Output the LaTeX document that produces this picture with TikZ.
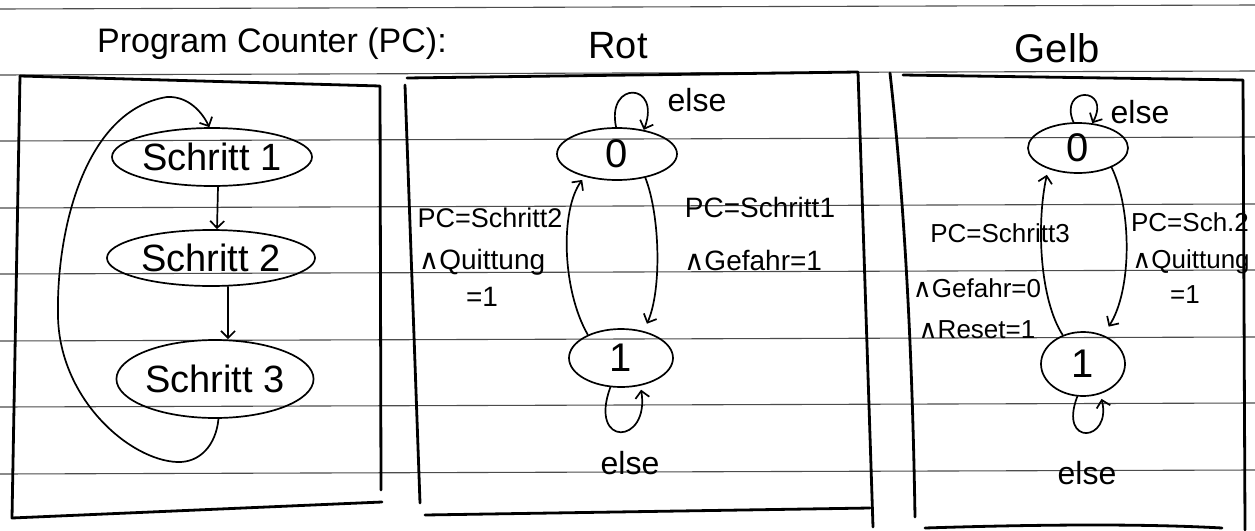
\documentclass[tikz,border=0pt]{standalone}
\usepackage{fontspec}
\setmainfont{Liberation Sans}
\newfontfamily\symfont{DejaVu Sans}
\usetikzlibrary{shapes.geometric,arrows.meta}
\newcommand{\fsz}[1]{\fontsize{#1}{#1}\selectfont}
\newcommand{\andsym}{{\symfont ∧}}
\begin{document}
\begin{tikzpicture}[x=1pt,y=-1pt,
  rule/.style={black!70,line width=1.1pt},
  frame/.style={line width=2.8pt,line cap=round,line join=round},
  state/.style={ellipse,draw,line width=1.7pt,inner sep=0pt},
  arr/.style={line width=1.7pt,line cap=round,
    -{Straight Barb[length=7pt,width=14pt,line width=1.7pt]}},
  title/.style={font=\fsz{34},inner sep=0pt},
  lbl/.style={font=\fsz{26},inner sep=0pt},
  elsel/.style={font=\fsz{32},inner sep=0pt}]

\useasboundingbox (0,0) rectangle (1255,530);
\fill[white] (0,0) rectangle (1255,530);

% ruled paper
\foreach \yy in {5,71,137,204,270,337,403,470}
  \draw[rule] (0,{\yy+4}) -- (1255,\yy);

% headings
\node[title] (hpc) at (272,44) {Program Counter (PC):};
\node[title,font=\fsz{38}] (hrot) at (618,46) {Rot};
\node[title,font=\fsz{40}] (hgelb) at (1057,48) {Gelb};

% frames
\draw[frame] (20,76) -- (380,86) -- (381,490);
\draw[frame] (20,76) -- (12,518) -- (382,502);
\draw[frame] (405,85) -- (420,503);
\draw[frame] (407,78) -- (858,72) -- (873,527);
\draw[frame] (425,515) -- (870,508);
\draw[frame] (890,73) .. controls (903,190) and (912,330) .. (915,517);
\draw[frame] (903,75) -- (1243,80) -- (1245,530);
\draw[frame] (925,528) .. controls (1050,524) and (1150,524) .. (1222,528);

% program counter
\node[state,minimum width=200pt,minimum height=58pt,font=\fsz{38}] (s1) at (212,157) {Schritt 1};
\node[state,minimum width=208pt,minimum height=56pt,font=\fsz{38}] (s2) at (211,258) {Schritt 2};
\node[state,minimum width=186pt,minimum height=78pt,font=\fsz{38}] (s3) at (215,379) {Schritt 3};
\draw[arr] ([xshift=6pt]s1.south) -- ([xshift=6pt]s2.north);
\draw[arr] ([xshift=17pt]s2.south) -- ([xshift=13pt]s3.north);
\draw[arr] (s3.275) .. controls (216,445) and (200,463) .. (177,462)
  .. controls (130,460) and (60,400) .. (58,317)
  .. controls (56,230) and (85,110) .. (167,97)
  .. controls (185,96) and (200,108) .. (s1.95);

% Rot
\node[state,minimum width=120pt,minimum height=52pt,font=\fsz{40}] (r0) at (617,154) {0};
\node[state,minimum width=104pt,minimum height=58pt,font=\fsz{40}] (r1) at (621,358) {1};
\draw[arr] (r0.92) .. controls (606,80) and (662,82) .. (r0.42);
\node[elsel] (re0) at (697,100) {else};
\draw[arr,shorten >=8pt] (r0.320) .. controls (660,215) and (662,290) .. (r1.50);
\node[lbl,font=\fsz{28}] (rl1) at (760,207) {PC=Schritt1};
\node[lbl,font=\fsz{28}] (rl2) at (753,260) {\andsym Gefahr=1};
\draw[arr,shorten >=4pt] (r1.145) .. controls (562,290) and (560,210) .. (r0.215);
\node[lbl,font=\fsz{27}] (rl3) at (490,218) {PC=Schritt2};
\node[lbl,font=\fsz{28}] (rl4) at (482,262) {\andsym Quittung};
\node[lbl,font=\fsz{28}] (rl5) at (482,297) {=1};
\draw[arr,shorten >=4pt] (r1.250) .. controls (588,448) and (650,445) .. (r1.305);
\node[elsel] (re1) at (630,463) {else};

% Gelb
\node[state,minimum width=100pt,minimum height=50pt,font=\fsz{40}] (g0) at (1078,148) {0};
\node[state,minimum width=84pt,minimum height=64pt,font=\fsz{40}] (g1) at (1083,364) {1};
\draw[arr] (g0.100) .. controls (1058,86) and (1112,86) .. (g0.60);
\node[elsel] (ge0) at (1140,112) {else};
\draw[arr,shorten >=6pt] (g1.125) .. controls (1040,300) and (1036,225) .. (g0.215);
\node[lbl] (gl1) at (1000,233) {PC=Schritt3};
\node[lbl] (gl2) at (977,288) {\andsym Gefahr=0};
\node[lbl] (gl3) at (977,330) {\andsym Reset=1};
\draw[arr,shorten >=10pt] (g0.330) .. controls (1132,210) and (1132,290) .. (g1.55);
\node[lbl] (gl4) at (1190,222) {PC=Sch.2};
\node[lbl] (gl5) at (1191,262) {\andsym Quittung};
\node[lbl] (gl6) at (1185,295) {=1};
\draw[arr,shorten >=5pt] (g1.260) .. controls (1058,447) and (1112,442) .. (g1.300);
\node[elsel] (ge1) at (1087,473) {else};
\end{tikzpicture}
\end{document}
